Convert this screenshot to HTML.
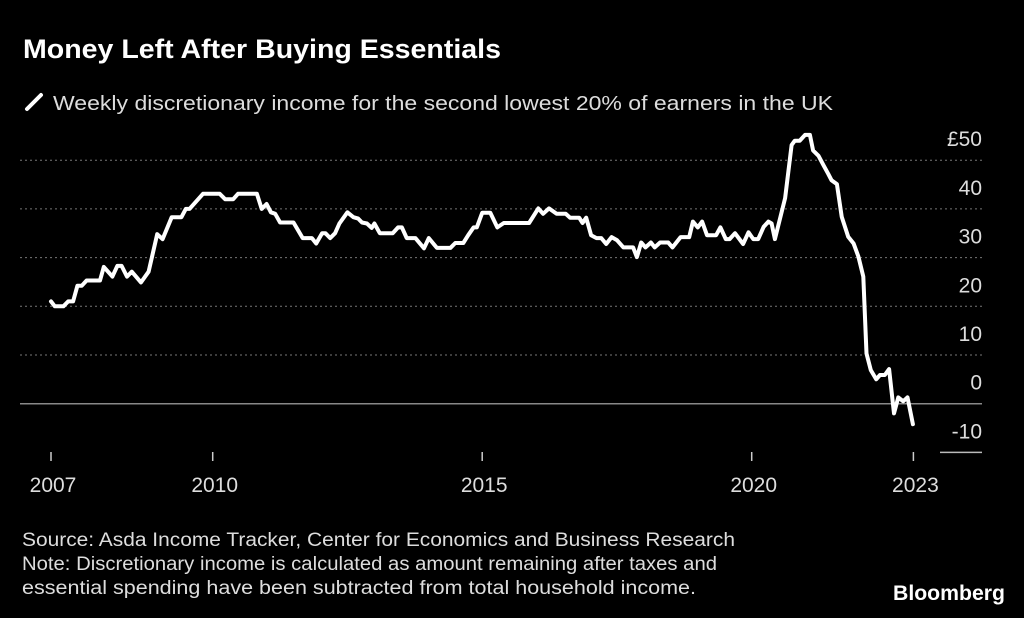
<!DOCTYPE html>
<html><head><meta charset="utf-8"><style>
html,body{margin:0;padding:0;background:#000;}
svg{display:block;font-family:"Liberation Sans",sans-serif;}
</style></head><body>
<svg id="chart" width="1024" height="618" viewBox="0 0 1024 618" xmlns="http://www.w3.org/2000/svg">
<rect width="1024" height="618" fill="#000"/>
<text x="23" y="58" fill="#fff" font-size="27" font-weight="bold" textLength="478" lengthAdjust="spacingAndGlyphs">Money Left After Buying Essentials</text>
<line x1="27" y1="109" x2="41" y2="95" stroke="#fff" stroke-width="4" stroke-linecap="round"/>
<text x="53" y="110" fill="#ddd" font-size="20" textLength="780" lengthAdjust="spacingAndGlyphs">Weekly discretionary income for the second lowest 20% of earners in the UK</text>
<g id="grid"></g>
<g id="yaxis"></g>
<g id="xaxis"></g>
<path id="line" fill="none" stroke="#fff" stroke-width="4" stroke-linejoin="round" stroke-linecap="round"/>
<text x="22" y="546" fill="#ddd" font-size="19" textLength="713" lengthAdjust="spacingAndGlyphs">Source: Asda Income Tracker, Center for Economics and Business Research</text>
<text x="22" y="570" fill="#ddd" font-size="19" textLength="695" lengthAdjust="spacingAndGlyphs">Note: Discretionary income is calculated as amount remaining after taxes and</text>
<text x="22" y="594" fill="#ddd" font-size="19" textLength="674" lengthAdjust="spacingAndGlyphs">essential spending have been subtracted from total household income.</text>
<text x="893" y="600" fill="#fff" font-size="21" font-weight="bold" textLength="112" lengthAdjust="spacingAndGlyphs">Bloomberg</text>
</svg>
<script>
const years=[2007,2007.07,2007.23,2007.32,2007.41,2007.49,2007.57,2007.66,2007.91,2007.98,2008.14,2008.23,2008.31,2008.41,2008.5,2008.67,2008.81,2008.97,2009.07,2009.24,2009.42,2009.5,2009.57,2009.82,2010.13,2010.23,2010.38,2010.47,2010.82,2010.91,2011.0,2011.08,2011.16,2011.25,2011.5,2011.67,2011.84,2011.92,2012.03,2012.09,2012.18,2012.27,2012.35,2012.5,2012.61,2012.7,2012.77,2012.86,2012.95,2013.0,2013.1,2013.34,2013.44,2013.51,2013.6,2013.76,2013.92,2014.01,2014.16,2014.41,2014.5,2014.65,2014.74,2014.84,2014.9,2015.0,2015.15,2015.28,2015.4,2015.87,2016.04,2016.13,2016.24,2016.38,2016.55,2016.63,2016.8,2016.86,2016.93,2017.02,2017.12,2017.21,2017.3,2017.4,2017.5,2017.62,2017.8,2017.87,2017.95,2018.03,2018.13,2018.2,2018.3,2018.45,2018.53,2018.68,2018.84,2018.91,2019.0,2019.08,2019.17,2019.34,2019.42,2019.52,2019.59,2019.69,2019.84,2019.94,2020.03,2020.12,2020.22,2020.31,2020.37,2020.43,2020.62,2020.74,2020.8,2020.89,2020.99,2021.08,2021.14,2021.24,2021.33,2021.42,2021.48,2021.58,2021.67,2021.79,2021.89,2021.98,2022.07,2022.13,2022.21,2022.31,2022.38,2022.47,2022.55,2022.64,2022.72,2022.81,2022.89,2022.99];
const values=[21,20,20,21,21,24.2,24.2,25.3,25.3,28.1,26.1,28.3,28.3,26.1,27.1,24.9,27.1,34.8,33.8,38.3,38.3,40,40,43.1,43.1,42,42,43.1,43.1,40,41,39.3,39,37.2,37.2,34,34,32.9,35,35,34,35,37,39.3,38.3,38,37.2,37,36.1,37,35,35,36.2,36.2,34,34,31.9,34,32,32,33,33,34.6,36.2,36.2,39.2,39.2,36.2,37.1,37.1,40.1,39,40.1,39,39,38.2,38.2,37.1,38.2,34.6,34,34,32.8,34.2,33.6,32.1,32.1,30.1,33.1,32.1,33.1,32.1,33.1,33.1,32.1,34.2,34.2,37.4,36.2,37.4,34.6,34.6,36.2,33.8,33.8,35,32.8,35.2,33.8,33.8,36.3,37.4,37,33.8,42.2,53.1,54,54,55.2,55.2,52,50.9,49,47.2,45.9,45.1,38.4,34.3,32.9,30.2,26.1,10.3,6.9,5,5.9,5.9,7.1,-2,1.3,0.5,1.3,-4.2];
const yTicks=[50,40,30,20,10,0,-10];
const yLabels=["£50","40","30","20","10","0","-10"];
const xTicks=[2007,2010,2015,2020,2023];
const NS="http://www.w3.org/2000/svg";
const x=v=>51+(v-2007)*53.9;
const y=v=>403.7-v*4.87;
const grid=document.getElementById('grid'),ya=document.getElementById('yaxis'),xa=document.getElementById('xaxis');
yTicks.forEach((t,i)=>{
  const l=document.createElementNS(NS,'line');
  
  
  if(t===0){l.setAttribute('x1',20);l.setAttribute('x2',982);l.setAttribute('stroke','#888');l.setAttribute('stroke-width',1.5);}
  else if(t===-10){l.setAttribute('x1',940);l.setAttribute('x2',982);l.setAttribute('stroke','#bbb');l.setAttribute('stroke-width',1.5);}
  else{l.setAttribute('x1',20);l.setAttribute('x2',982);l.setAttribute('stroke','#777');l.setAttribute('stroke-dasharray','2 3');}
  l.setAttribute('y1',y(t));l.setAttribute('y2',y(t));
  grid.appendChild(l);
  const tx=document.createElementNS(NS,'text');
  
  
  tx.setAttribute('x',982);tx.setAttribute('y',y(t)-14);tx.setAttribute('text-anchor','end');
  tx.setAttribute('fill','#ddd');tx.setAttribute('font-size','21');
  tx.textContent=yLabels[i];ya.appendChild(tx);
});
xTicks.forEach(t=>{
  const l=document.createElementNS(NS,'line');
  
  
  l.setAttribute('x1',x(t));l.setAttribute('x2',x(t));l.setAttribute('y1',452);l.setAttribute('y2',461);
  l.setAttribute('stroke','#ccc');l.setAttribute('stroke-width',1.5);xa.appendChild(l);
  const tx=document.createElementNS(NS,'text');
  
  
  tx.setAttribute('x',x(t)+2);tx.setAttribute('y',492);tx.setAttribute('text-anchor','middle');
  tx.setAttribute('fill','#ddd');tx.setAttribute('font-size','21');
  tx.textContent=t;xa.appendChild(tx);
});
document.getElementById('line').setAttribute('d',years.map((yr,i)=>(i?'L':'M')+x(yr).toFixed(1)+','+y(values[i]).toFixed(1)).join(''));
</script>
</body></html>
